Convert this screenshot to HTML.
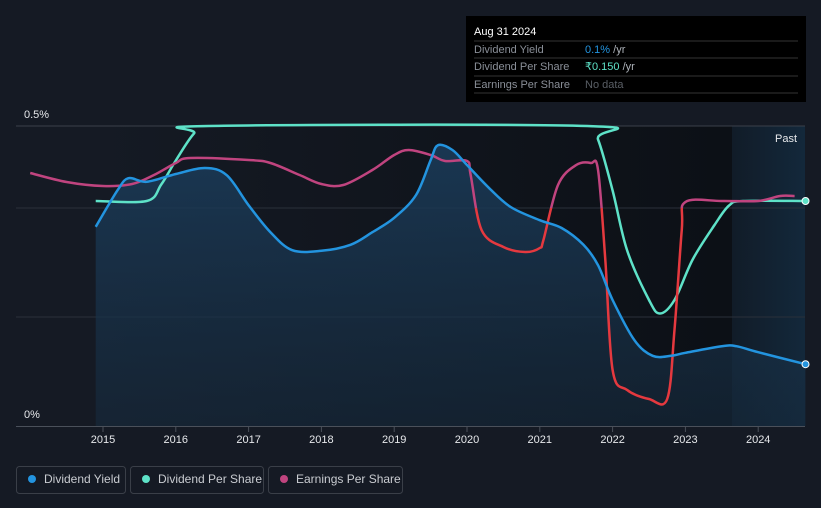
<!DOCTYPE html>
<html><head><meta charset="utf-8"><style>
body{margin:0;background:#151a24;font-family:"Liberation Sans",sans-serif;}
svg{display:block}
</style></head><body>
<svg id="chart" width="821" height="508" xmlns="http://www.w3.org/2000/svg">
<defs>
<linearGradient id="bgG" x1="0" x2="1" y1="0" y2="0"><stop offset="0" stop-color="#151a24"/><stop offset="1" stop-color="#0c1016"/></linearGradient>
<linearGradient id="pastG" x1="0" x2="1"><stop offset="0" stop-color="#111c28"/><stop offset="1" stop-color="#13283b"/></linearGradient>
<linearGradient id="areaG" x1="0" x2="0" y1="0" y2="1"><stop offset="0" stop-color="#1b3d5c" stop-opacity="0.85"/><stop offset="1" stop-color="#162a3d" stop-opacity="0.6"/></linearGradient>
<clipPath id="topClip"><rect x="0" y="0" width="821" height="208"/></clipPath>
<clipPath id="botClip"><rect x="0" y="208" width="821" height="300"/></clipPath>
</defs>
<rect x="95" y="126" width="637" height="300" fill="url(#bgG)"/>
<rect x="732" y="126" width="73" height="300" fill="url(#pastG)"/>
<g id="grid"></g>
<g id="series"></g>
<g id="axis"></g>
<text x="24" y="118" fill="#e6e8eb" font-size="11">0.5%</text>
<text x="24" y="418" fill="#e6e8eb" font-size="11">0%</text>
<text x="797" y="142" fill="#e6e8eb" font-size="11" text-anchor="end">Past</text>
<g>
<rect x="466" y="16" width="340" height="86" fill="#000"/>
<text x="474" y="35" fill="#fff" font-size="11">Aug 31 2024</text>
<line x1="474" x2="798" y1="41" y2="41" stroke="#333"/>
<text x="474" y="53" fill="#8a8f98" font-size="11">Dividend Yield</text>
<text x="585" y="53" font-size="11" fill="#2394df">0.1%<tspan fill="#aeb3ba"> /yr</tspan></text>
<line x1="474" x2="798" y1="58" y2="58" stroke="#333"/>
<text x="474" y="70" fill="#8a8f98" font-size="11">Dividend Per Share</text>
<text x="585" y="70" font-size="11" fill="#5ee2c8">₹0.150<tspan fill="#aeb3ba"> /yr</tspan></text>
<line x1="474" x2="798" y1="76" y2="76" stroke="#333"/>
<text x="474" y="88" fill="#8a8f98" font-size="11">Earnings Per Share</text>
<text x="585" y="88" font-size="11" fill="#5a5f66">No data</text>
<line x1="474" x2="798" y1="93" y2="93" stroke="#333"/>
</g>
<g>
<g><rect x="16.5" y="466.5" width="109" height="27" rx="3" fill="none" stroke="#3a3f48"/><circle cx="32" cy="479" r="4" fill="#2394df"/><text x="44" y="483" fill="#c9ccd1" font-size="12">Dividend Yield</text></g>
<g><rect x="130.5" y="466.5" width="133" height="27" rx="3" fill="none" stroke="#3a3f48"/><circle cx="146" cy="479" r="4" fill="#5ee2c8"/><text x="158" y="483" fill="#c9ccd1" font-size="12">Dividend Per Share</text></g>
<g><rect x="268.5" y="466.5" width="134" height="27" rx="3" fill="none" stroke="#3a3f48"/><circle cx="284" cy="479" r="4" fill="#c0447f"/><text x="296" y="483" fill="#c9ccd1" font-size="12">Earnings Per Share</text></g>
</g>
</svg>
<script>
const yearTicks=[2015,2016,2017,2018,2019,2020,2021,2022,2023,2024];
const yieldT=[2014.9,2015.2,2015.35,2015.6,2016,2016.4,2016.7,2017,2017.3,2017.6,2018,2018.4,2018.7,2019,2019.3,2019.5,2019.6,2019.8,2020,2020.3,2020.6,2021,2021.3,2021.6,2021.8,2022,2022.3,2022.55,2022.8,2023,2023.5,2023.7,2024,2024.65];
const yieldV=[0.332,0.393,0.413,0.407,0.420,0.430,0.418,0.368,0.323,0.293,0.292,0.302,0.323,0.347,0.385,0.443,0.468,0.460,0.435,0.397,0.365,0.343,0.330,0.302,0.268,0.210,0.143,0.117,0.117,0.122,0.133,0.133,0.123,0.103];
const dpsT=[2014.9,2015.6,2015.8,2016,2016.25,2016.45,2021.65,2021.8,2022,2022.2,2022.5,2022.65,2022.85,2023.1,2023.4,2023.6,2023.8,2024.65];
const dpsV=[0.150,0.150,0.161,0.177,0.195,0.200,0.200,0.191,0.157,0.117,0.084,0.075,0.084,0.111,0.134,0.147,0.150,0.150];
const epsT=[2014,2014.5,2015,2015.4,2015.7,2016,2016.2,2017,2017.3,2017.7,2018,2018.3,2018.7,2019,2019.2,2019.5,2019.7,2020,2020.05,2020.2,2020.5,2020.8,2021,2021.05,2021.25,2021.5,2021.7,2021.8,2021.9,2022,2022.2,2022.5,2022.75,2022.85,2022.95,2023,2023.5,2024,2024.3,2024.5];
const epsV=[2.53,2.44,2.40,2.42,2.51,2.63,2.68,2.66,2.63,2.51,2.42,2.41,2.56,2.71,2.76,2.71,2.65,2.65,2.51,1.96,1.79,1.74,1.78,1.86,2.41,2.61,2.63,2.56,1.66,0.56,0.36,0.27,0.27,0.96,1.96,2.24,2.25,2.25,2.30,2.30];
const X=t=>103+(t-2015)*72.8;
const Yy=v=>426-v*600, Yd=v=>426-v*1500, Ye=v=>426-v*100;
const NS='http://www.w3.org/2000/svg';
function mk(tag,attrs,parent){const e=document.createElementNS(NS,tag);for(const k in attrs)e.setAttribute(k,attrs[k]);parent.appendChild(e);return e;}
function smooth(pts){let d='M'+pts[0][0]+','+pts[0][1];for(let i=0;i<pts.length-1;i++){const p0=pts[i-1]||pts[i],p1=pts[i],p2=pts[i+1],p3=pts[i+2]||p2;const c1=[p1[0]+(p2[0]-p0[0])/6,p1[1]+(p2[1]-p0[1])/6],c2=[p2[0]-(p3[0]-p1[0])/6,p2[1]-(p3[1]-p1[1])/6];d+=' C'+c1[0]+','+c1[1]+' '+c2[0]+','+c2[1]+' '+p2[0]+','+p2[1];}return d;}
const grid=document.getElementById('grid');
[126,208,317].forEach((y,i)=>{const l=mk('line',{x1:16,x2:805,y1:y,y2:y,stroke:i==0?'#3a404a':'#2a303a','stroke-width':1},grid);

});
const ax=document.getElementById('axis');
const axl=mk('line',{x1:16,x2:805,y1:426.5,y2:426.5,stroke:'#4a505a'},ax);


yearTicks.forEach(y=>{mk('line',{x1:X(y),x2:X(y),y1:427,y2:432,stroke:'#4a505a'},ax);
const t=mk('text',{x:X(y),y:443,fill:'#e6e8eb','font-size':11,'text-anchor':'middle'},ax);t.textContent=y;

});
const S=document.getElementById('series');
const yp=yieldT.map((t,i)=>[X(t),Yy(yieldV[i])]);
const yd=smooth(yp);
const area=mk('path',{d:yd+' L'+yp[yp.length-1][0]+',426 L'+yp[0][0]+',426 Z',fill:'url(#areaG)'},S);


const dp=dpsT.map((t,i)=>[X(t),Yd(dpsV[i])]);
const dl=mk('path',{d:smooth(dp),fill:'none',stroke:'#5ee2c8','stroke-width':2.5},S);


const ep=epsT.map((t,i)=>[X(t),Ye(epsV[i])]);
const ed=smooth(ep);
const e1=mk('path',{d:ed,fill:'none',stroke:'#c0447f','stroke-width':2.5,'clip-path':'url(#topClip)'},S);


const e2=mk('path',{d:ed,fill:'none',stroke:'#e5393f','stroke-width':2.5,'clip-path':'url(#botClip)'},S);


const yl=mk('path',{d:yd,fill:'none',stroke:'#2394df','stroke-width':2.5},S);


const c1=mk('circle',{cx:dp[dp.length-1][0],cy:dp[dp.length-1][1],r:3.5,fill:'#5ee2c8',stroke:'#fff','stroke-width':1},S);


const c2=mk('circle',{cx:yp[yp.length-1][0],cy:yp[yp.length-1][1],r:3.5,fill:'#2394df',stroke:'#fff','stroke-width':1},S);


</script>
</body></html>
